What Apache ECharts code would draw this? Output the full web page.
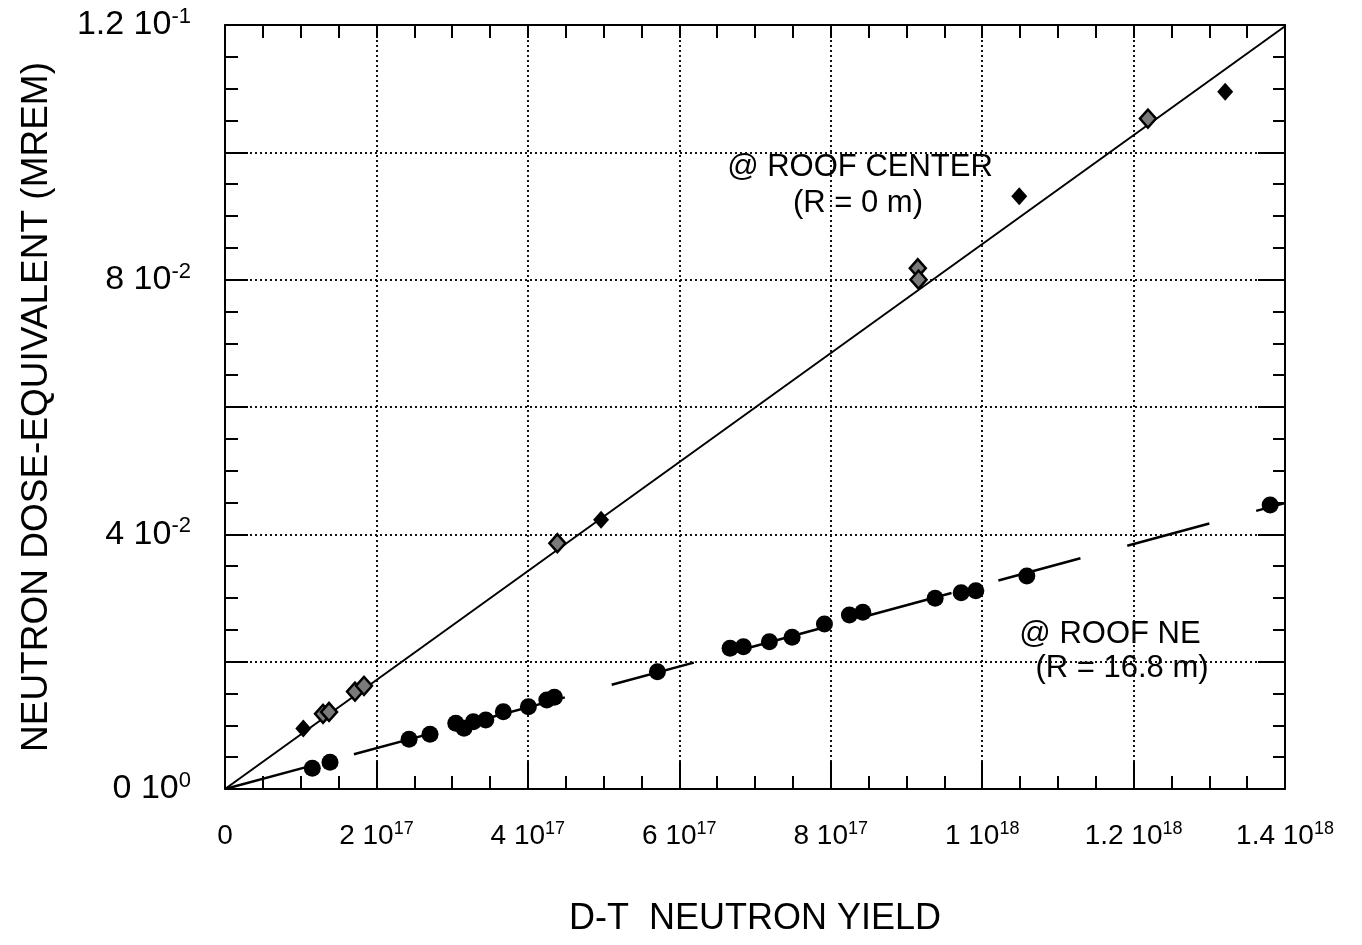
<!DOCTYPE html>
<html>
<head>
  <meta charset="utf-8">
  <title>Neutron dose vs D-T yield</title>
  <script src="https://cdn.jsdelivr.net/npm/echarts@6/dist/echarts.min.js"></script>
  <style>
    html, body { margin: 0; padding: 0; background: #fff; }
    #chart { width: 1362px; height: 945px; }
  </style>
</head>
<body>
  <div id="chart"></div>
<script>
  // tick labels, written as mantissa + power of ten
  const xTickValues = [0, 2e17, 4e17, 6e17, 8e17, 1e18, 1.2e18, 1.4e18]
  const xTickMantissa = ['0', '2', '4', '6', '8', '1', '1.2', '1.4']
  const xTickPower = ['', '17', '17', '17', '17', '18', '18', '18']
  const yTickValues = [0, 0.04, 0.08, 0.12]
  const yTickMantissa = ['0', '4', '8', '1.2']
  const yTickPower = ['0', '-2', '-2', '-1']

  // @ ROOF CENTER (R = 0 m)
  const centerSolidX = [1.034e17, 4.967e17, 1.049e18, 1.321e18]
  const centerSolidY = [0.0095, 0.0423, 0.0931, 0.1095]
  const centerHatchX = [1.295e17, 1.374e17, 1.717e17, 1.836e17, 4.39e17, 9.15e17, 9.16e17, 1.219e18]
  const centerHatchY = [0.0118, 0.0121, 0.0153, 0.0162, 0.0386, 0.0818, 0.0800, 0.1053]
  const centerFitX = [0, 1.4e18]
  const centerFitY = [0, 0.1198]

  // @ ROOF NE (R = 16.8 m)
  const neX = [1.153e17, 1.387e17, 2.431e17, 2.708e17, 3.048e17, 3.157e17, 3.280e17, 3.444e17,
    3.676e17, 4.007e17, 4.250e17, 4.350e17, 5.711e17, 6.671e17, 6.847e17, 7.190e17, 7.490e17,
    7.917e17, 8.247e17, 8.424e17, 9.379e17, 9.723e17, 9.917e17, 1.059e18, 1.3804e18]
  const neY = [0.00325, 0.00419, 0.00781, 0.00859, 0.01032, 0.00953, 0.01057, 0.01084,
    0.01214, 0.01293, 0.01398, 0.01440, 0.01842, 0.02210, 0.02235, 0.02313, 0.02382,
    0.02591, 0.02733, 0.02775, 0.02995, 0.03083, 0.03114, 0.03345, 0.04460]
  const neFitX = [0, 1.4e18]
  const neFitY = [0, 0.0449]

  const zip = (xs, ys) => xs.map((x, i) => [x, ys[i]])

  const sansFont = "'Liberation Sans', Arial, sans-serif"

  function tickLabel(values, mantissa, power, tol) {
    return function (v) {
      let i = values.findIndex(t => Math.abs(t - v) < tol)
      if (i < 0) return ''
      if (!power[i]) return '{b|' + mantissa[i] + '}'
      return '{b|' + mantissa[i] + ' 10}{s|' + power[i] + '}'
    }
  }

  let black = '#000'
  let tickStyle = { color: black, width: 2 }
  let gridStyle = { color: '#111', width: 2, type: [2, 3] }

  let chart = echarts.init(document.getElementById('chart'))

  let option = {
    backgroundColor: '#fff',
    animation: false,
    grid: { left: 225, top: 25, right: 77, bottom: 156, containLabel: false },
    xAxis: [
      {
        type: 'value', position: 'bottom',
        min: 0, max: 1.4e18, interval: 2e17,
        axisLine: { show: true, onZero: false, lineStyle: tickStyle },
        axisTick: { show: true, inside: true, length: 27, lineStyle: tickStyle },
        minorTick: { show: true, splitNumber: 4, length: 13, lineStyle: tickStyle },
        splitLine: { show: true, lineStyle: gridStyle },
        axisLabel: {
          showMinLabel: true, showMaxLabel: true, margin: 31,
          formatter: tickLabel(xTickValues, xTickMantissa, xTickPower, 1e10),
          rich: {
            b: { fontFamily: sansFont, fontSize: 28, color: black, lineHeight: 32 },
            s: { fontFamily: sansFont, fontSize: 18, color: black, verticalAlign: 'top', lineHeight: 18 },
          },
        },
        name: 'D-T  NEUTRON YIELD', nameLocation: 'middle', nameGap: 112,
        nameTextStyle: { fontFamily: sansFont, fontSize: 36, color: black },
      },
      {
        type: 'value', position: 'top',
        min: 0, max: 1.4e18, interval: 2e17,
        axisLine: { show: true, onZero: false, lineStyle: tickStyle },
        axisTick: { show: true, inside: true, length: 13, lineStyle: tickStyle },
        minorTick: { show: true, splitNumber: 4, length: 13, lineStyle: tickStyle },
        splitLine: { show: false },
        axisLabel: { show: false },
      },
    ],
    yAxis: [
      {
        type: 'value', position: 'left',
        min: 0, max: 0.12, interval: 0.02,
        axisLine: { show: true, onZero: false, lineStyle: tickStyle },
        axisTick: { show: true, inside: true, length: 23, lineStyle: tickStyle },
        minorTick: { show: true, splitNumber: 4, length: 13, lineStyle: tickStyle },
        splitLine: { show: true, lineStyle: gridStyle },
        axisLabel: {
          showMinLabel: true, showMaxLabel: true, margin: 34,
          formatter: tickLabel(yTickValues, yTickMantissa, yTickPower, 1e-6),
          rich: {
            b: { fontFamily: sansFont, fontSize: 34, color: black, lineHeight: 38 },
            s: { fontFamily: sansFont, fontSize: 22, color: black, verticalAlign: 'top', lineHeight: 22 },
          },
        },
        name: 'NEUTRON DOSE-EQUIVALENT (MREM)', nameLocation: 'middle', nameGap: 170,
        nameTextStyle: { fontFamily: sansFont, fontSize: 37, color: black },
      },
      {
        type: 'value', position: 'right',
        min: 0, max: 0.12, interval: 0.02,
        axisLine: { show: true, onZero: false, lineStyle: tickStyle },
        axisTick: { show: true, inside: true, length: 27, lineStyle: tickStyle },
        minorTick: { show: true, splitNumber: 4, length: 12, lineStyle: tickStyle },
        splitLine: { show: false },
        axisLabel: { show: false },
      },
    ],
    graphic: [
      { type: 'text', x: 860, y: 167, style: { text: '@ ROOF CENTER', font: '31px ' + sansFont, fill: black, align: 'center', verticalAlign: 'middle' } },
      { type: 'text', x: 858, y: 203, style: { text: '(R = 0 m)', font: '31px ' + sansFont, fill: black, align: 'center', verticalAlign: 'middle' } },
      { type: 'text', x: 1110, y: 634, style: { text: '@ ROOF NE', font: '31px ' + sansFont, fill: black, align: 'center', verticalAlign: 'middle' } },
      { type: 'text', x: 1122, y: 668, style: { text: '(R = 16.8 m)', font: '31px ' + sansFont, fill: black, align: 'center', verticalAlign: 'middle' } },
    ],
    series: [
      {
        name: 'center fit', type: 'line', data: zip(centerFitX, centerFitY),
        showSymbol: false, symbol: 'none', z: 2,
        lineStyle: { color: black, width: 2 },
      },
      {
        name: 'NE fit', type: 'line', data: zip(neFitX, neFitY),
        showSymbol: false, symbol: 'none', z: 2,
        lineStyle: { color: black, width: 2.5, type: [85, 48.5] },
      },
      {
        name: 'center hatched', type: 'scatter', data: zip(centerHatchX, centerHatchY),
        symbol: 'diamond', symbolSize: [16, 18], z: 3,
        itemStyle: { color: '#7a7a7a', borderColor: black, borderWidth: 2.5, opacity: 1 },
      },
      {
        name: 'center solid', type: 'scatter', data: zip(centerSolidX, centerSolidY),
        symbol: 'diamond', symbolSize: [16, 18], z: 3,
        itemStyle: { color: black, opacity: 1 },
      },
      {
        name: 'NE', type: 'scatter', data: zip(neX, neY),
        symbol: 'circle', symbolSize: 17, z: 3,
        itemStyle: { color: black, opacity: 1 },
      },
    ],
  }

  chart.setOption(option)
</script>
</body>
</html>
